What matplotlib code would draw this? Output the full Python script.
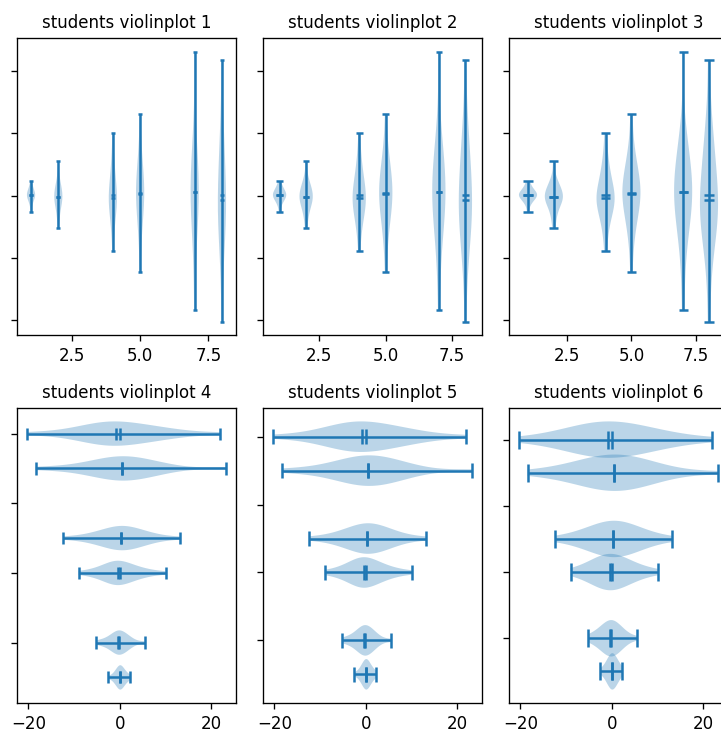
import numpy as np
import matplotlib.pyplot as plt

fs = 10  # fontsize
pos = [1, 2, 4, 5, 7, 8]

# one small sample per position (extrema, mean, median)
s1 = [-2.6, -1.6, -1.2, -0.9, -0.7, -0.5, -0.4, -0.2, -0.1, 0.0, 0.1,
      0.2, 0.3, 0.4, 0.6, 0.7, 0.9, 1.1, 1.4, 1.8, 2.3]
s2 = [-5.2, -4.0, -3.0, -2.3, -1.9, -1.3, -1.0, -0.8, -0.6, -0.4, -0.3,
      -0.1, 0.2, 0.5, 0.8, 0.9, 1.3, 1.7, 2.2, 2.9, 5.5]
s4 = [-9.0, -6.2, -4.8, -3.7, -2.9, -2.2, -1.6, -1.2, -0.9, -0.6, -0.4,
      0.0, 0.5, 1.0, 1.6, 2.3, 3.1, 4.0, 5.2, 6.8, 10.0]
s5 = [-12.4, -8.1, -6.0, -4.6, -3.5, -2.6, -1.8, -1.1, -0.5, 0.0, 0.3,
      0.8, 1.4, 2.0, 2.7, 3.4, 4.2, 5.2, 6.5, 8.4, 13.1]
s7 = [-18.4, -12.5, -8.3, -6.4, -4.9, -3.7, -2.6, -1.7, -0.9, -0.2, 0.5,
      1.2, 2.0, 2.9, 3.4, 4.5, 5.6, 7.0, 8.9, 10.9, 23.2]
s8 = [-20.3, -12.9, -9.6, -7.4, -5.8, -4.6, -3.8, -3.1, -2.5, -1.7, -0.8,
      0.2, 1.3, 2.5, 3.9, 5.4, 6.2, 8.3, 10.8, 13.0, 21.9]
data = [np.array(s) for s in (s1, s2, s4, s5, s7, s8)]

titles = ['students violinplot %d' % i for i in range(1, 7)]
points = [20, 40, 60, 80, 100, 200]
widths = [0.3, 0.5, 0.7, 0.7, 0.9, 1.1]
bws = [None, 'silverman', 0.5, None, 'silverman', 0.75]
vert = [True, True, True, False, False, False]

dpi = 120
fig = plt.figure(figsize=(721/dpi, 733/dpi), dpi=dpi)
lefts = [17/721, 263/721, 509/721]
w = 219/721
bottoms = [398/733, 30/733]
heights = [297/733, 295/733]

for i in range(6):
    r, c = divmod(i, 3)
    ax = fig.add_axes([lefts[c], bottoms[r], w, heights[r]])
    ax.violinplot(data, pos, points=points[i], widths=widths[i],
                  showmeans=True, showextrema=True, showmedians=True,
                  bw_method=bws[i], vert=vert[i])
    ax.set_title(titles[i], fontsize=fs)
    ax.set_yticklabels([])

plt.savefig('out.png', dpi=dpi)
